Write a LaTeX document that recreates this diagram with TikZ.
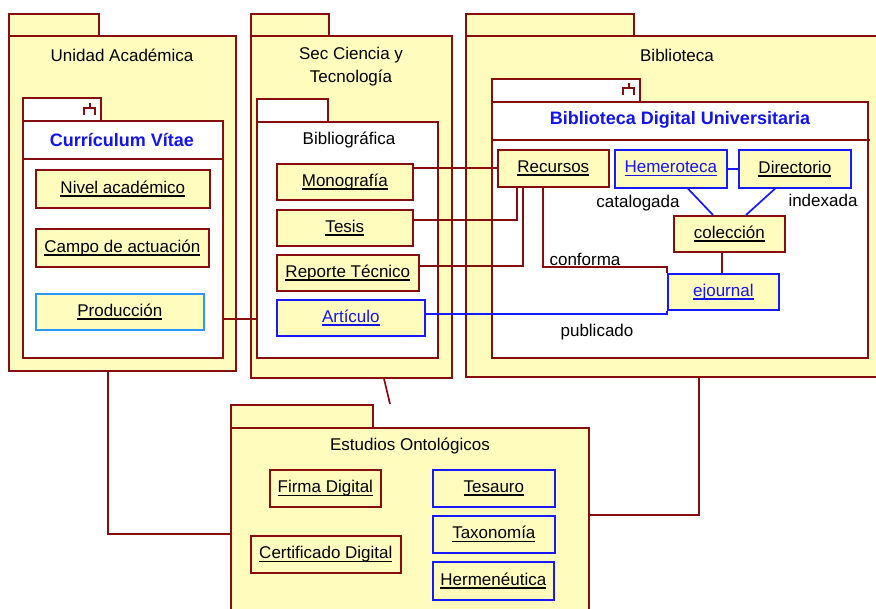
\documentclass[tikz,border=0pt]{standalone}
\usepackage{fontspec}
\setmainfont{Liberation Sans}
\usepackage{xcolor}
\definecolor{dred}{RGB}{135,14,14}
\definecolor{pyel}{RGB}{255,252,190}
\definecolor{bblue}{RGB}{25,25,255}
\definecolor{lblue}{RGB}{45,150,255}
\definecolor{tblue}{RGB}{20,20,240}
\newcommand{\ulink}[1]{\setbox0=\hbox{#1}\rlap{\rule[-3.6pt]{\wd0}{1.7pt}}\box0}
\tikzset{
  pkg/.style={draw=dred, fill=pyel, line width=1.7pt, anchor=north west, inner sep=0pt},
  pkgw/.style={pkg, fill=white},
  item/.style={draw=dred, fill=pyel, line width=1.7pt, anchor=north west, inner sep=0pt, font=\fontsize{17}{20}\selectfont},
  itemb/.style={item, draw=bblue},
  conn/.style={draw=dred, line width=1.7pt},
  connb/.style={draw=bblue, line width=1.7pt},
  lbl/.style={font=\fontsize{17}{23}\selectfont, inner sep=0pt},
  ttl/.style={font=\bfseries\fontsize{18}{21}\selectfont, text=tblue, inner sep=0pt}
}

\begin{document}
\begin{tikzpicture}[x=1pt, y=-1pt]
    \useasboundingbox (0,0) rectangle (876,609);
    \clip (0,0) rectangle (876,609);
    \fill[white] (0,0) rectangle (876,609);

    % Unidad Academica
    \node[pkg, minimum width=90, minimum height=22] (uatab) at (8,13) {};
    \node[pkg, minimum width=227, minimum height=335] (ua) at (8,35) {};
    \node[lbl] (uattl) at (122,55) {Unidad Académica};
    \node[pkgw, minimum width=78, minimum height=23] (cvtab) at (22,97) {};
    \node[pkgw, minimum width=200, minimum height=237] (cv) at (22,120) {};
    \draw[conn] (cv.north west) ++(0,39) -- ++(202,0);
    \draw[conn, shift={(cvtab.north east)}] (-12,6) -- (-12,11) (-17.5,18) -- (-17.5,11) -- (-6.5,11) -- (-6.5,18);
    \node[ttl] (cvttl) at (122,140) {Currículum Vítae};
    \node[item, minimum width=174, minimum height=38] (nivel) at (35,169) {\ulink{Nivel académico}};
    \node[item, minimum width=173, minimum height=38] (campo) at (35,228) {\ulink{Campo de actuación}};
    \node[item, draw=lblue, minimum width=168, minimum height=36] (prod) at (35,293) {\ulink{Producción}};

    % Sec Ciencia y Tecnologia
    \node[pkg, minimum width=78, minimum height=22] (sctab) at (250,13) {};
    \node[pkg, minimum width=201, minimum height=342] (sc) at (250,35) {};
    \node[lbl, align=center] (scttl) at (351,67) {Sec Ciencia y\\Tecnología};
    \node[pkgw, minimum width=71, minimum height=23] (bibtab) at (256,98) {};
    \node[pkgw, minimum width=181, minimum height=236] (bib) at (256,121) {};
    \node[lbl] (bibttl) at (349,140) {Bibliográfica};
    \node[item, minimum width=136, minimum height=36] (mono) at (276,163) {\ulink{Monografía}};
    \node[item, minimum width=136, minimum height=36] (tesis) at (276,209) {\ulink{Tesis}};
    \node[item, minimum width=142, minimum height=36] (rep) at (276,254) {\ulink{Reporte Técnico}};
    \node[itemb, minimum width=148, minimum height=36] (art) at (276,299) {\color{tblue}\ulink{Artículo}};

    % Biblioteca
    \node[pkg, minimum width=168, minimum height=22] (bltab) at (465,13) {};
    \node[pkg, minimum width=430, minimum height=341] (bl) at (465,35) {};
    \node[lbl] (blttl) at (677,55) {Biblioteca};
    \node[pkgw, minimum width=148, minimum height=23] (bdutab) at (491,78) {};
    \node[pkgw, minimum width=376, minimum height=256] (bdu) at (491,101) {};
    \draw[conn] (bdu.north west) ++(0,39) -- ++(379,0);
    \draw[conn, shift={(bdutab.north east)}] (-12,5) -- (-12,10) (-17.5,17) -- (-17.5,10) -- (-6.5,10) -- (-6.5,17);
    \node[ttl] (bduttl) at (680,120) {Biblioteca Digital Universitaria};
    \node[item, minimum width=111, minimum height=37] (rec) at (497,149) {\ulink{Recursos}};
    \node[itemb, minimum width=112, minimum height=38] (hem) at (614,149) {\color{tblue}\ulink{Hemeroteca}};
    \node[itemb, minimum width=112, minimum height=38] (dir) at (738,149) {\ulink{Directorio}};
    \node[item, minimum width=111, minimum height=36] (col) at (673,215) {\ulink{colección}};
    \node[itemb, minimum width=111, minimum height=36] (ej) at (667,273) {\color{tblue}\ulink{ejournal}};
    \node[lbl] (catlbl) at (638,203) {catalogada};
    \node[lbl] (idxlbl) at (823,200) {indexada};
    \node[lbl] (conflbl) at (585,259) {conforma};
    \node[lbl] (publbl) at (597,332) {publicado};

    % Estudios Ontologicos
    \node[pkg, minimum width=142, minimum height=23] (eotab) at (230,404) {};
    \node[pkg, minimum width=358, minimum height=220] (eo) at (230,427) {};
    \node[lbl] (eottl) at (410,446) {Estudios Ontológicos};
    \node[item, minimum width=111, minimum height=37] (firma) at (269,469) {\ulink{Firma Digital}};
    \node[item, minimum width=150, minimum height=37] (cert) at (250,535) {\ulink{Certificado Digital}};
    \node[itemb, minimum width=122, minimum height=37] (tes) at (432,469) {\ulink{Tesauro}};
    \node[itemb, minimum width=122, minimum height=37] (tax) at (432,515) {\ulink{Taxonomía}};
    \node[itemb, minimum width=121, minimum height=38] (herm) at (432,561) {\ulink{Hermenéutica}};
    \coordinate (eolink) at (390,404);

    % connectors
    \draw[conn] (ua.south -| 108,0) |- (eo.west |- 0,534);
    \draw[conn] (bl.south -| 699,0) |- (eo.east |- 0,515);
    \draw[conn] (sc.south -| 384,0) -- (eolink);
    \draw[conn] (cv.east |- 0,319) -- (bib.west |- 0,319);
    \draw[conn] (mono.east |- rec.west) -- (rec.west);
    \draw[conn] (tesis.east |- 0,220) -| (rec.south -| 517,0);
    \draw[conn] (rep.east |- 0,266) -| (rec.south -| 523,0);
    \draw[conn] (rec.south -| 543,0) |- (ej.north west |- 0,267) -- (ej.north west);
    \draw[connb] (art.east |- 0,314) -| (ej.south west);
    \draw[connb] (hem.east) -- (dir.west);
    \draw[connb] (hem.south -| 688,0) -- (col.north -| 713,0);
    \draw[connb] (dir.south -| 775,0) -- (col.north -| 746,0);
    \draw[conn] (col.south -| 722,0) -- (ej.north -| 722,0);
\end{tikzpicture}
\end{document}
